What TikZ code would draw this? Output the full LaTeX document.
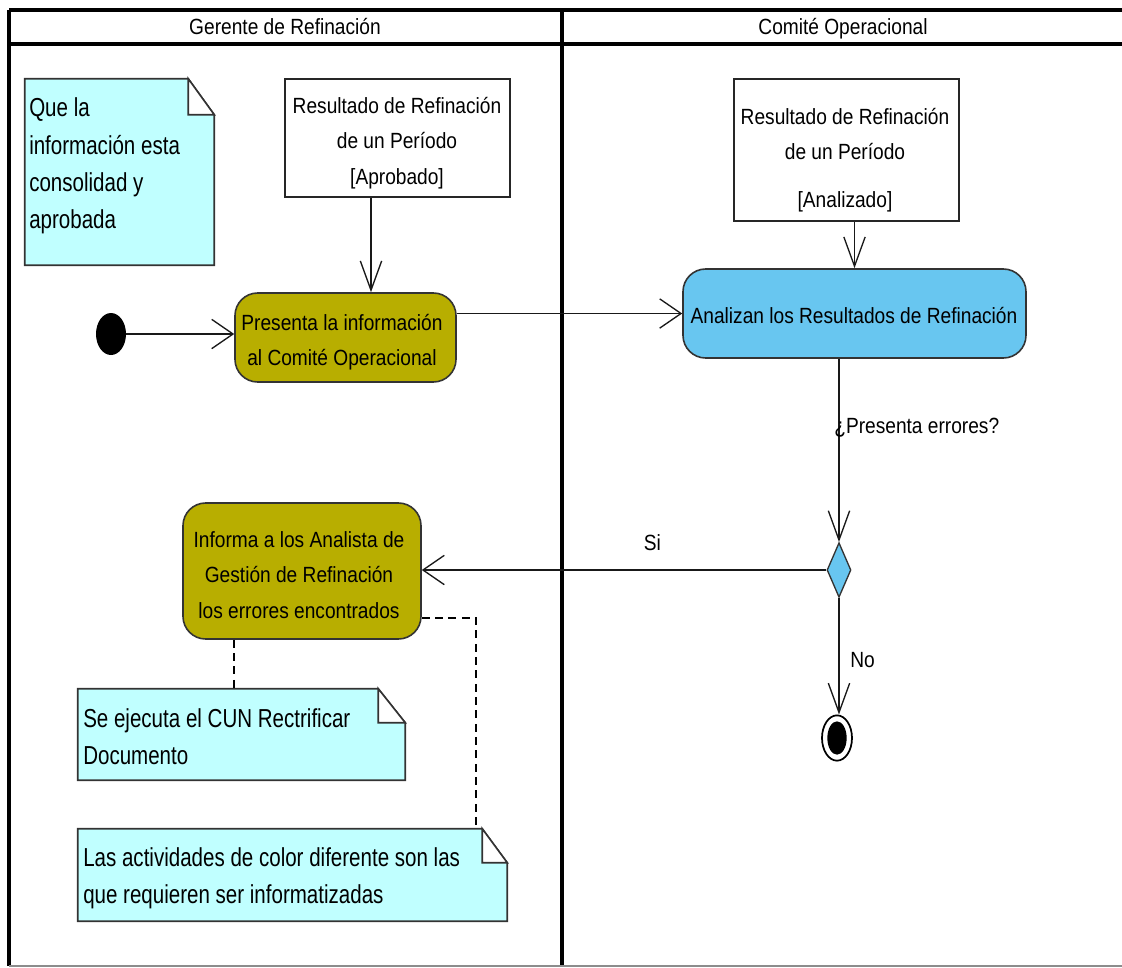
\documentclass[tikz,border=0pt]{standalone}
\usepackage{fontspec}
\setmainfont{Liberation Sans}[FakeStretch=0.87]
\newfontfamily\notefont{Liberation Sans}[FakeStretch=0.79]
\usetikzlibrary{arrows.meta,shapes.geometric,fit,calc}

\definecolor{actolive}{RGB}{184,174,0}
\definecolor{actblue}{RGB}{104,198,240}
\definecolor{notecyan}{RGB}{192,255,255}

% UML note: body with a folded upper right corner
\newcommand\drawnote[3]{%
  \draw[notebody] (#1.north west) -- ($(#1.north east)+(-#2,0)$) -- ($(#1.north east)+(0,#3)$)
    -- (#1.south east) -- (#1.south west) -- cycle;
  \draw[notebody, fill=white] ($(#1.north east)+(-#2,0)$) -- ($(#1.north east)+(-#2,#3)$)
    -- ($(#1.north east)+(0,#3)$) -- cycle;
}

\begin{document}
\begin{tikzpicture}[x=0.75pt, y=-0.75pt,
  font=\fontsize{16.5pt}{26.5pt}\selectfont,
  lanerule/.style={line width=2.6pt, draw=black},
  lanehead/.style={inner sep=0pt, anchor=base},
  conn/.style={line width=1pt, draw=black!90},
  vtip/.style={-{Straight Barb[length=22pt,width=16pt]}},
  htip/.style={-{Straight Barb[length=16pt,width=22pt]}},
  notelink/.style={line width=1pt, dash pattern=on 6pt off 4pt},
  objbox/.style={draw=black!85, line width=1.1pt, fill=white, inner sep=0pt},
  action/.style={draw=black!80, line width=1.2pt, rounded corners=17pt, inner sep=0pt},
  boxtext/.style={inner sep=0pt, align=center},
  notebox/.style={inner sep=0pt},
  notebody/.style={draw=black!80, line width=1.2pt, fill=notecyan},
  notetext/.style={inner sep=0pt, align=left, anchor=west,
    font=\notefont\fontsize{19.5pt}{28pt}\selectfont},
  guard/.style={inner sep=2pt},
  decision/.style={diamond, draw=black!80, line width=1pt, fill=actblue, inner sep=0pt,
    minimum width=18pt, minimum height=41pt},
  startnode/.style={ellipse, fill=black, inner sep=0pt, minimum width=22.5pt, minimum height=31.5pt},
  endouter/.style={ellipse, draw=black, line width=1.3pt, fill=white, inner sep=0pt,
    minimum width=22.5pt, minimum height=34pt},
  endinner/.style={ellipse, fill=black, inner sep=0pt, minimum width=14.5pt, minimum height=25pt}
]
\useasboundingbox (0,0) rectangle (1122,968);

% swimlane frame
\draw[lanerule] (9,10) -- (1122,10);
\draw[lanerule, line width=3.4pt] (9,44) -- (1122,44);
\draw[lanerule] (9,10) -- (9,966);
\draw[lanerule] (562,10) -- (562,966);
\draw[black!45, line width=1.5pt] (9,966) -- (1122,966);

\node[lanehead] (laneA) at (285,34) {Gerente de Refinación};
\node[lanehead] (laneB) at (843,34) {Comité Operacional};

% notes
\node[notebox, fit={(25,79)(214,265)}] (note1) {};
\drawnote{note1}{26}{36}
\node[notetext] (note1txt) at (29,166) {Que la\\información esta\\consolidad y\\aprobada};

\node[notebox, fit={(78,689)(405,780)}] (note2) {};
\drawnote{note2}{27}{34}
\node[notetext] (note2txt) at (83,737) {Se ejecuta el CUN Rectrificar\\Documento};

\node[notebox, fit={(78,829)(507,921)}] (note3) {};
\drawnote{note3}{25}{34}
\node[notetext] (note3txt) at (83,878) {Las actividades de color diferente son las\\que requieren ser informatizadas};

% object flows
\node[objbox, fit={(285,79)(510,197)}] (obj1) {};
\node[boxtext] (obj1txt) at (397,143) {Resultado de Refinación\\de un Período\\{[}Aprobado{]}};
\node[objbox, fit={(734,79)(959,221)}] (obj2) {};
\node[boxtext] (obj2txt) at (845,160) {Resultado de Refinación\\de un Período\\[9pt]{[}Analizado{]}};

% actions
\node[action, fill=actolive, fit={(235,293)(456,382)}] (present) {};
\node[boxtext] (presenttxt) at (342,342) {Presenta la información\\al Comité Operacional};
\node[action, fill=actblue, fit={(683,269)(1026,358)}] (analyze) {};
\node[boxtext] (analyzetxt) at (854,316) {Analizan los Resultados de Refinación};
\node[action, fill=actolive, fit={(183,503)(421,639)}] (inform) {};
\node[boxtext] (informtxt) at (299,575) {Informa a los Analista de\\Gestión de Refinación\\los errores encontrados};

% control nodes
\node[startnode] (start) at (111,334) {};
\node[decision] (errors) at (839,570) {};
\node[endouter] (finish) at (837,738) {};
\node[endinner] (finishdot) at (finish.center) {};

\coordinate (objflowA) at (371,0);
\coordinate (tieA) at (234,0);
\coordinate (tieB) at (476,618);

% connectors
\draw[conn, htip] (start) -- (present.west |- start);
\draw[conn, vtip] (obj1.south -| objflowA) -- (present.north -| objflowA);
\draw[conn, htip] (present.east |- analyze.west) -- (analyze.west);
\draw[conn, vtip] (obj2.south -| analyze.north) -- (analyze.north);
\draw[conn, vtip] (analyze.south -| errors.north) -- (errors.north)
  node[guard, pos=0.375, anchor=west, xshift=-6pt] (askerr) {¿Presenta errores?};
\draw[conn, htip] (errors.west) -- (inform.east |- errors.west)
  node[guard, pos=0.43, above=12pt] (yes) {Si};
\draw[conn, vtip] (errors.south) -- (errors.south |- finish.north)
  node[guard, pos=0.53, right=6pt] (no) {No};

% note attachments
\draw[notelink] (inform.south -| tieA) -- (note2.north -| tieA);
\draw[notelink] (inform.east |- tieB) -- (tieB) -- (note3.north -| tieB);
\end{tikzpicture}
\end{document}
